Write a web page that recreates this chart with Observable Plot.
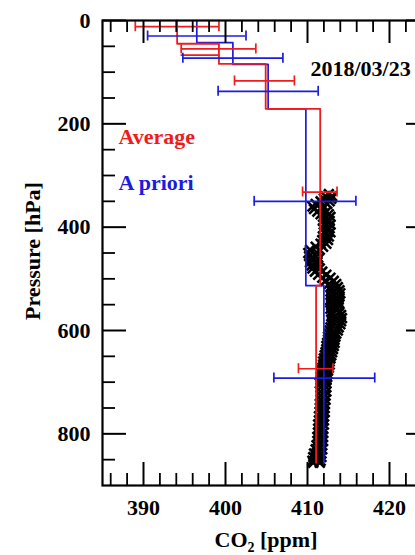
<!DOCTYPE html>
<html><head><meta charset="utf-8">
<script src="https://cdn.jsdelivr.net/npm/d3@7"></script>
<script src="https://cdn.jsdelivr.net/npm/@observablehq/plot@0.6"></script>
<style>html,body{margin:0;padding:0;overflow:hidden;background:#fff}</style>
</head><body><div id="chart"></div>
<script>
// ---- data ----
const dateLabel = "2018/03/23";
const xTickLabels = [390, 400, 410, 420];
const xMinorTicks = [386, 388, 392, 394, 396, 398, 402, 404, 406, 408, 412, 414, 416, 418, 422, 424];
const yTickLabels = [0, 200, 400, 600, 800];
const yMinorTicks = [50, 100, 150, 250, 300, 350, 450, 500, 550, 650, 700, 750, 850];

// layered profiles (layer top/bottom pressure in hPa, CO2 ppm)
const avgLayerTop    = [0, 45, 84, 171, 513];
const avgLayerBottom = [45, 84, 171, 513, 856];
const avgValues      = [394.1, 399.2, 404.9, 411.55, 411.05];
const aprLayerTop    = [0, 43, 85, 171, 513];
const aprLayerBottom = [43, 85, 171, 513, 857];
const aprValues      = [396.5, 400.9, 405.2, 409.8, 412.0];
const avgExtraP  = [67, 67];
const avgExtraX  = [394.6, 399.2];

// error bars
const avgErrP  = [12, 55, 117, 332, 674];
const avgErrLo = [389.0, 394.6, 401.1, 409.4, 408.9];
const avgErrHi = [399.2, 403.7, 408.4, 413.6, 413.1];
const aprErrP  = [30, 73, 137, 350, 692];
const aprErrLo = [390.5, 394.8, 399.1, 403.5, 405.9];
const aprErrHi = [402.5, 407.0, 411.3, 415.9, 418.2];

// in-situ observations (pressure hPa, CO2 ppm)
const obsP = [336,340,340,345,345,350,350,355,355,360,360,365,365,370,370,375,375,380,380,388,388,395,395,402,402,410,410,418,418,425,425,432,432,438,438,444,444,450,450,456,456,462,462,468,468,474,474,480,480,486,486,492,492,498,498,504,504,510,510,516,516,522,522,528,528,534,534,540,540,546,546,552,552,558,558,564,564,570,570,576,576,582,582,588,588,594,594,600,600,606,606,612,612,618,618,624,624,630,630,636,636,642,642,648,648,654,654,660,660,666,666,672,672,678,678,684,684,690,690,696,696,702,702,710,710,718,718,726,726,734,734,742,742,750,750,758,758,766,766,774,774,782,782,790,790,798,798,806,806,814,814,822,822,830,830,838,838,845,845,852,852,856,856];
const obsCO2 = [412.6,412.2,413.0,412.0,412.9,411.6,412.7,411.0,412.4,410.6,412.0,410.8,411.8,411.2,412.3,411.6,412.6,411.9,412.8,411.9,412.7,412.0,412.8,411.9,412.7,412.0,412.8,411.9,412.6,411.8,412.5,411.6,412.3,411.0,411.9,410.3,411.5,410.1,411.2,410.2,411.1,410.4,411.3,410.3,411.2,410.5,411.3,410.6,411.5,410.9,411.8,411.3,412.3,411.8,412.8,412.2,413.2,412.6,413.5,412.8,413.7,412.9,413.9,413.0,414.0,412.9,413.9,412.8,413.8,412.8,413.8,412.9,413.8,412.8,413.7,412.9,413.9,413.0,414.1,413.1,414.2,413.0,414.1,412.9,414.0,412.8,413.8,412.7,413.7,412.6,413.5,412.5,413.4,412.5,413.3,412.4,413.3,412.3,413.2,412.3,413.1,412.2,413.0,412.1,412.9,412.0,412.8,411.9,412.7,411.9,412.7,411.8,412.6,411.7,412.5,411.7,412.4,411.6,412.4,411.6,412.3,411.5,412.3,411.6,412.3,411.6,412.3,411.6,412.2,411.6,412.2,411.5,412.1,411.5,412.1,411.5,412.1,411.4,412.0,411.4,412.0,411.3,412.0,411.3,411.9,411.3,411.9,411.2,411.9,411.2,411.9,411.1,411.8,411.0,411.8,410.8,411.7,410.7,411.7,410.6,411.6,410.7,411.5];

// ---- build tables ----
function stepPath(tops, bottoms, vals) {
  const pts = [];
  vals.forEach((v, i) => { pts.push({x: v, p: tops[i]}); pts.push({x: v, p: bottoms[i]}); });
  return pts;
}
const avgPath = stepPath(avgLayerTop, avgLayerBottom, avgValues);
const aprPath = stepPath(aprLayerTop, aprLayerBottom, aprValues);
const avgErr = avgErrP.map((p, i) => ({p, lo: avgErrLo[i], hi: avgErrHi[i]}));
const aprErr = aprErrP.map((p, i) => ({p, lo: aprErrLo[i], hi: aprErrHi[i]}));
const obs = obsP.map((p, i) => ({p, c: obsCO2[i]}));
const avgExtra = avgExtraP.map((p, i) => ({p, x: avgExtraX[i]}));

const RED = "#ee1c1c", BLUE = "#1c1ce0";
const W = 445, H = 555, ML = 102, MR = 15, MT = 20, MB = 70;
const FW = W - ML - MR, FH = H - MT - MB;
const capHalf = 5 * 900 / FH; // 5px cap half height in hPa
const font = "'Liberation Serif', 'Times New Roman', serif";

function errMarks(data, color) {
  return [
    Plot.ruleY(data, {y: "p", x1: "lo", x2: "hi", stroke: color, strokeWidth: 1.7}),
    Plot.ruleX(data, {x: "lo", y1: d => d.p - capHalf, y2: d => d.p + capHalf, stroke: color, strokeWidth: 1.7}),
    Plot.ruleX(data, {x: "hi", y1: d => d.p - capHalf, y2: d => d.p + capHalf, stroke: color, strokeWidth: 1.7})
  ];
}

const chart = Plot.plot({
  width: W, height: H,
  marginLeft: ML, marginRight: MR, marginTop: MT, marginBottom: MB,
  style: {fontFamily: font, fontSize: "22px", fontWeight: "bold", color: "black", background: "white", maxWidth: "none", overflow: "visible"},
  x: {domain: [385, 425]},
  y: {domain: [0, 900], reverse: true},
  marks: [
    Plot.dot(obs, {x: "c", y: "p", symbol: "times", r: 4.5, stroke: "black", strokeWidth: 2.6}),
    Plot.line(aprPath, {x: "x", y: "p", stroke: BLUE, strokeWidth: 1.7}),
    Plot.line(avgPath, {x: "x", y: "p", stroke: RED, strokeWidth: 1.8}),
    Plot.line(avgExtra, {x: "x", y: "p", stroke: RED, strokeWidth: 1.7}),
    ...errMarks(aprErr, BLUE),
    ...errMarks(avgErr, RED),
    // inward ticks
    Plot.tickX(xTickLabels, {x: d => d, insetTop: FH - 23, stroke: "black", strokeWidth: 2}),
    Plot.tickX(xMinorTicks, {x: d => d, insetTop: FH - 12, stroke: "black", strokeWidth: 1.8}),
    Plot.tickX(xTickLabels, {x: d => d, insetBottom: FH - 23, stroke: "black", strokeWidth: 2}),
    Plot.tickX(xMinorTicks, {x: d => d, insetBottom: FH - 12, stroke: "black", strokeWidth: 1.8}),
    Plot.tickY(yTickLabels, {y: d => d, insetRight: FW - 24, stroke: "black", strokeWidth: 2}),
    Plot.tickY(yMinorTicks, {y: d => d, insetRight: FW - 13, stroke: "black", strokeWidth: 1.8}),
    Plot.tickY(yTickLabels, {y: d => d, insetLeft: FW - 24, stroke: "black", strokeWidth: 2}),
    Plot.tickY(yMinorTicks, {y: d => d, insetLeft: FW - 13, stroke: "black", strokeWidth: 1.8}),
    Plot.frame({stroke: "black", strokeWidth: 2.2}),
    Plot.axisX({anchor: "bottom", ticks: xTickLabels, tickSize: 0, tickPadding: 14, label: null, fontSize: 22, fill: "black"}),
    Plot.axisY({anchor: "left", ticks: yTickLabels, tickSize: 0, tickPadding: 12, label: null, fontSize: 22, fill: "black"}),
    Plot.text([dateLabel], {text: d => d, frameAnchor: "top-left", dx: 208, dy: 55, lineAnchor: "bottom", textAnchor: "start", fill: "black", fontSize: 22}),
    Plot.text(["Average"], {text: d => d, frameAnchor: "top-left", dx: 16, dy: 123, lineAnchor: "bottom", textAnchor: "start", fill: RED, fontSize: 22}),
    Plot.text(["A priori"], {text: d => d, frameAnchor: "top-left", dx: 16, dy: 169, lineAnchor: "bottom", textAnchor: "start", fill: BLUE, fontSize: 22}),
    Plot.text(["Pressure [hPa]"], {text: d => d, frameAnchor: "left", dx: -63, dy: -2, rotate: -90, lineAnchor: "bottom", textAnchor: "middle", fill: "black", fontSize: 22})
  ]
});

// x-axis title with subscript
const svg = d3.select(chart);
const t = svg.append("text")
  .attr("x", ML + FW / 2).attr("y", 547)
  .attr("text-anchor", "middle")
  .attr("font-family", font).attr("font-size", 22).attr("font-weight", "bold").attr("fill", "black");
t.append("tspan").text("CO");
t.append("tspan").attr("font-size", 14).attr("dy", 5).text("2");
t.append("tspan").attr("dy", -5).text(" [ppm]");

document.getElementById("chart").appendChild(chart);
</script></body></html>
